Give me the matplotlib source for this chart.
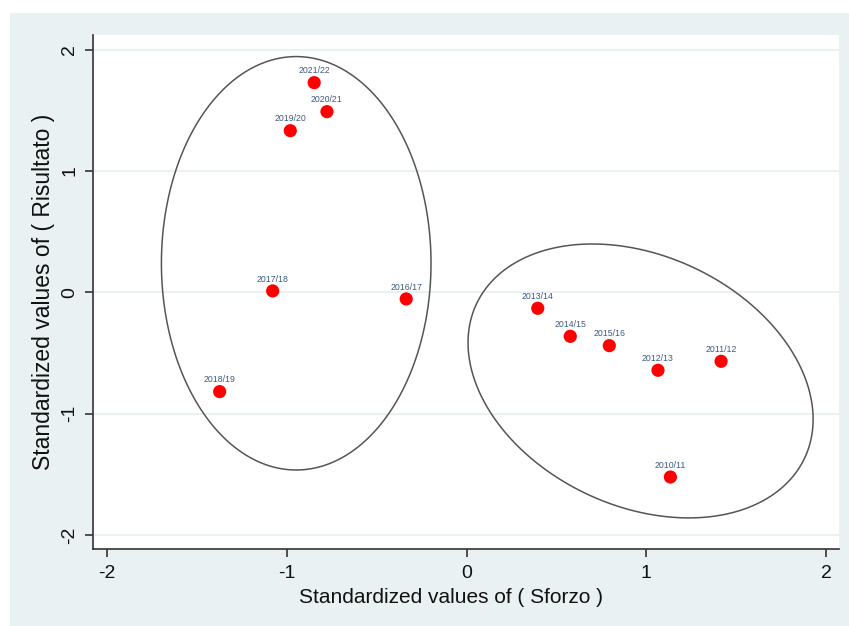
import numpy as np
import matplotlib
matplotlib.use("Agg")
import matplotlib.pyplot as plt
from matplotlib.patches import Rectangle, Polygon

plt.rcParams['font.family'] = ['Liberation Sans', 'DejaVu Sans']

# standardized values
years = ['2021/22', '2020/21', '2019/20', '2017/18', '2016/17', '2018/19',
         '2013/14', '2014/15', '2015/16', '2012/13', '2011/12', '2010/11']
sforzo = [-0.848, -0.777, -0.981, -1.079, -0.336, -1.374,
          0.396, 0.577, 0.794, 1.065, 1.416, 1.134]
risultato = [1.728, 1.489, 1.332, 0.011, -0.055, -0.819,
             -0.132, -0.363, -0.440, -0.643, -0.569, -1.523]

# cluster ellipses: centre x, centre y, half width, half height, covariance term
ell_cx = [-0.948, 0.968]
ell_cy = [0.239, -0.731]
ell_hw = [0.750, 0.960]
ell_hh = [1.704, 1.129]
ell_cov = [0.0, -0.303]

ticks = [-2, -1, 0, 1, 2]

bg = '#eaf1f3'
fig = plt.figure(figsize=(8.49, 6.26), dpi=100)
panel = Rectangle((10 / 849, 0), 1, 1 - 13 / 626, transform=fig.transFigure,
                  facecolor=bg, edgecolor='none', zorder=-10)
fig.add_artist(panel)

ax = fig.add_axes([0.1099, 0.1225, 0.8783, 0.8216])
ax.set_zorder(5)
ax.set_facecolor('white')

t = np.linspace(0, 2 * np.pi, 400, endpoint=False)
for cx, cy, hw, hh, c in zip(ell_cx, ell_cy, ell_hw, ell_hh, ell_cov):
    k = c / hw
    ex = cx + hw * np.cos(t)
    ey = cy + k * np.cos(t) + np.sqrt(hh ** 2 - k ** 2) * np.sin(t)
    ax.add_patch(Polygon(np.column_stack([ex, ey]), closed=True, fill=False,
                         edgecolor='#555555', lw=1.1, zorder=2))

ax.scatter(sforzo, risultato, s=90, color='#ff0000', edgecolors='none', zorder=3)
for lab, x, y in zip(years, sforzo, risultato):
    ax.annotate(lab, (x, y), xytext=(0, 8.5), textcoords='offset points',
                ha='center', va='center', fontsize=6.3, color='#3d5a80', zorder=4)

ax.set_xlim(-2.077, 2.072)
ax.set_ylim(-2.119, 2.121)
ax.set_xticks(ticks)
ax.set_yticks(ticks)
ax.set_xticklabels([str(v) for v in ticks])
ax.set_yticklabels([str(v) for v in ticks], rotation=90, va='center')
ax.grid(axis='y', color=bg, lw=1.5)
ax.set_axisbelow(True)
for s in ['top', 'right']:
    ax.spines[s].set_visible(False)
for s in ['left', 'bottom']:
    ax.spines[s].set_color('#333333')
    ax.spines[s].set_linewidth(1.2)
ax.tick_params(direction='out', length=6, width=1.2, color='#333333',
               labelsize=14, labelcolor='#111111', pad=5)

ax.set_xlabel('Standardized values of ( Sforzo )', fontsize=15, color='#111111')
ax.set_ylabel('Standardized values of ( Risultato )', fontsize=16.5, color='#111111')
ax.xaxis.set_label_coords(0.48, -0.075)
ax.yaxis.set_label_coords(-0.051, 0.5)

fig.savefig('out.png', dpi=100, facecolor='white')
